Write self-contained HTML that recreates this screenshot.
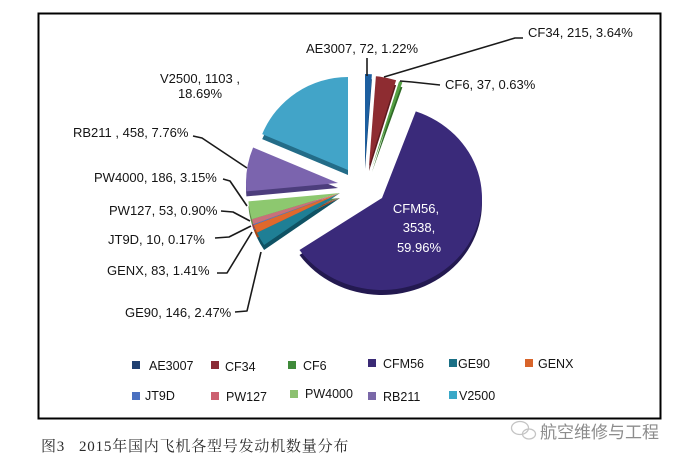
<!DOCTYPE html>
<html>
<head>
<meta charset="utf-8">
<style>
  html, body { margin: 0; padding: 0; background: #ffffff; }
  svg { display: block; }
  .lbl { font-family: "Liberation Sans", Arial, sans-serif; font-size: 13px; fill: #141414; }
  .leg { font-family: "Liberation Sans", Arial, sans-serif; font-size: 12.5px; fill: #141414; }
  .ld { fill: none; stroke: #1a1a1a; stroke-width: 1.6; stroke-linejoin: round; }
</style>
</head>
<body>
<svg width="680" height="461" viewBox="0 0 680 461" xmlns="http://www.w3.org/2000/svg">
  <rect x="0" y="0" width="680" height="461" fill="#ffffff"/>
  <!-- chart frame -->
  <rect x="38.5" y="13.5" width="622" height="405" fill="#ffffff" stroke="#000" stroke-width="2"/>

  <!-- 3D sides (offset copies) -->
  <g transform="translate(0,5)">
    <path d="M365,164 L365,74 A90,90 0 0 1 371.9,74.3 Z" fill="#0f3a66"/>
    <path d="M369,166 L375.9,76.3 A90,90 0 0 1 396.1,80.2 Z" fill="#5e1a1e"/>
    <path d="M372,167 L399.1,81.2 A90,90 0 0 1 402.4,82.3 Z" fill="#2f6a26"/>
    <path d="M382,198 L415.8,111.4 A100,92 0 1 1 299.5,250 Z" fill="#231950"/>
    <path d="M340,193 L264.1,245.0 A92,92 0 0 1 257.0,232.6 Z" fill="#0f5264"/>
    <path d="M340,193 L257.0,232.6 A92,92 0 0 1 253.8,225.1 Z" fill="#a04515"/>
    <path d="M340,193 L253.8,225.1 A92,92 0 0 1 253.4,224.2 Z" fill="#30508a"/>
    <path d="M340,193 L253.4,224.2 A92,92 0 0 1 251.8,219.2 Z" fill="#8a4450"/>
    <path d="M340,193 L251.8,219.2 A92,92 0 0 1 248.4,201.4 Z" fill="#5a8a45"/>
    <path d="M338,183 L246.4,191.4 A92,92 0 0 1 253.1,147.5 Z" fill="#4c3d7c"/>
    <path d="M348,170 L262.2,134.1 A93,93 0 0 1 348,77 Z" fill="#236c88"/>
  </g>

  <!-- top faces -->
  <path d="M365,164 L365,74 A90,90 0 0 1 371.9,74.3 Z" fill="#1d5fa0"/>
  <path d="M369,166 L375.9,76.3 A90,90 0 0 1 396.1,80.2 Z" fill="#8e2c31"/>
  <path d="M372,167 L399.1,81.2 A90,90 0 0 1 402.4,82.3 Z" fill="#55a043"/>
  <path d="M382,198 L415.8,111.4 A100,92 0 1 1 299.5,250 Z" fill="#3a2a7a"/>
  <path d="M340,193 L264.1,245.0 A92,92 0 0 1 257.0,232.6 Z" fill="#1f7f95"/>
  <path d="M340,193 L257.0,232.6 A92,92 0 0 1 253.8,225.1 Z" fill="#e0682c"/>
  <path d="M340,193 L253.8,225.1 A92,92 0 0 1 253.4,224.2 Z" fill="#4f7bc6"/>
  <path d="M340,193 L253.4,224.2 A92,92 0 0 1 251.8,219.2 Z" fill="#c9707a"/>
  <path d="M340,193 L251.8,219.2 A92,92 0 0 1 248.4,201.4 Z" fill="#8dc86f"/>
  <path d="M338,183 L246.4,191.4 A92,92 0 0 1 253.1,147.5 Z" fill="#7b64ae"/>
  <path d="M348,170 L262.2,134.1 A93,93 0 0 1 348,77 Z" fill="#42a4c8"/>

  <!-- leader lines -->
  <path class="ld" d="M367,58 L367,76"/>
  <path class="ld" d="M384,77 L515,38 L523,38"/>
  <path class="ld" d="M400,81 L412,82 L440,85"/>
  <path class="ld" d="M193,136 L202,138 L247,168"/>
  <path class="ld" d="M223,179 L230,181 L247,206"/>
  <path class="ld" d="M221,211 L233,212 L250,221"/>
  <path class="ld" d="M215,238 L229,237 L251,226"/>
  <path class="ld" d="M217,273 L227,273 L252,232"/>
  <path class="ld" d="M235,312 L247,311 L261,252"/>

  <!-- data labels -->
  <text class="lbl" x="306" y="53">AE3007, 72, 1.22%</text>
  <text class="lbl" x="528" y="37">CF34, 215, 3.64%</text>
  <text class="lbl" x="445" y="89">CF6, 37, 0.63%</text>
  <text class="lbl" x="200" y="83" text-anchor="middle">V2500, 1103 ,</text>
  <text class="lbl" x="200" y="98" text-anchor="middle">18.69%</text>
  <text class="lbl" x="73" y="137">RB211 , 458, 7.76%</text>
  <text class="lbl" x="94" y="182">PW4000, 186, 3.15%</text>
  <text class="lbl" x="109" y="215">PW127, 53, 0.90%</text>
  <text class="lbl" x="108" y="244">JT9D, 10, 0.17%</text>
  <text class="lbl" x="107" y="275">GENX, 83, 1.41%</text>
  <text class="lbl" x="125" y="317">GE90, 146, 2.47%</text>
  <text class="lbl" x="416" y="213" text-anchor="middle" style="fill:#ffffff">CFM56,</text>
  <text class="lbl" x="419" y="232" text-anchor="middle" style="fill:#ffffff">3538,</text>
  <text class="lbl" x="419" y="252" text-anchor="middle" style="fill:#ffffff">59.96%</text>

  <!-- legend row 1 -->
  <rect x="132" y="361" width="8" height="8" fill="#1f3f70"/>
  <text class="leg" x="149" y="370">AE3007</text>
  <rect x="211" y="361" width="8" height="8" fill="#8a2a35"/>
  <text class="leg" x="225" y="371">CF34</text>
  <rect x="288" y="361" width="8" height="8" fill="#3f8a3a"/>
  <text class="leg" x="303" y="370">CF6</text>
  <rect x="368" y="359" width="8" height="8" fill="#3a2a75"/>
  <text class="leg" x="383" y="368">CFM56</text>
  <rect x="449" y="359" width="8" height="8" fill="#1a6f85"/>
  <text class="leg" x="458" y="368">GE90</text>
  <rect x="525" y="359" width="8" height="8" fill="#d8642a"/>
  <text class="leg" x="538" y="368">GENX</text>

  <!-- legend row 2 -->
  <rect x="132" y="392" width="8" height="8" fill="#4a70c0"/>
  <text class="leg" x="145" y="400">JT9D</text>
  <rect x="211" y="392" width="8" height="8" fill="#cc6070"/>
  <text class="leg" x="226" y="401">PW127</text>
  <rect x="290" y="390" width="8" height="8" fill="#8cc070"/>
  <text class="leg" x="305" y="398">PW4000</text>
  <rect x="368" y="392" width="8" height="8" fill="#7a68a8"/>
  <text class="leg" x="383" y="401">RB211</text>
  <rect x="449" y="391" width="8" height="8" fill="#3aa8c8"/>
  <text class="leg" x="459" y="400">V2500</text>

  <!-- caption -->
  <text x="41" y="451" style="font-family:'Liberation Serif','Noto Serif CJK SC',serif;font-size:15px;fill:#2a2a2a;letter-spacing:0.8px">图3</text>
  <text x="79" y="451" style="font-family:'Liberation Serif','Noto Serif CJK SC',serif;font-size:15px;fill:#2a2a2a;letter-spacing:0.8px">2015年国内飞机各型号发动机数量分布</text>

  <!-- watermark -->
  <g fill="none" stroke="#c4c4c4" stroke-width="1.3">
    <ellipse cx="520" cy="428" rx="8.5" ry="6.5"/>
    <ellipse cx="529" cy="434" rx="6.5" ry="5"/>
  </g>
  <text x="540" y="438" style="font-family:'Liberation Sans','Noto Sans CJK SC',sans-serif;font-size:17px;fill:#8c8c8c">航空维修与工程</text>
</svg>
</body>
</html>
